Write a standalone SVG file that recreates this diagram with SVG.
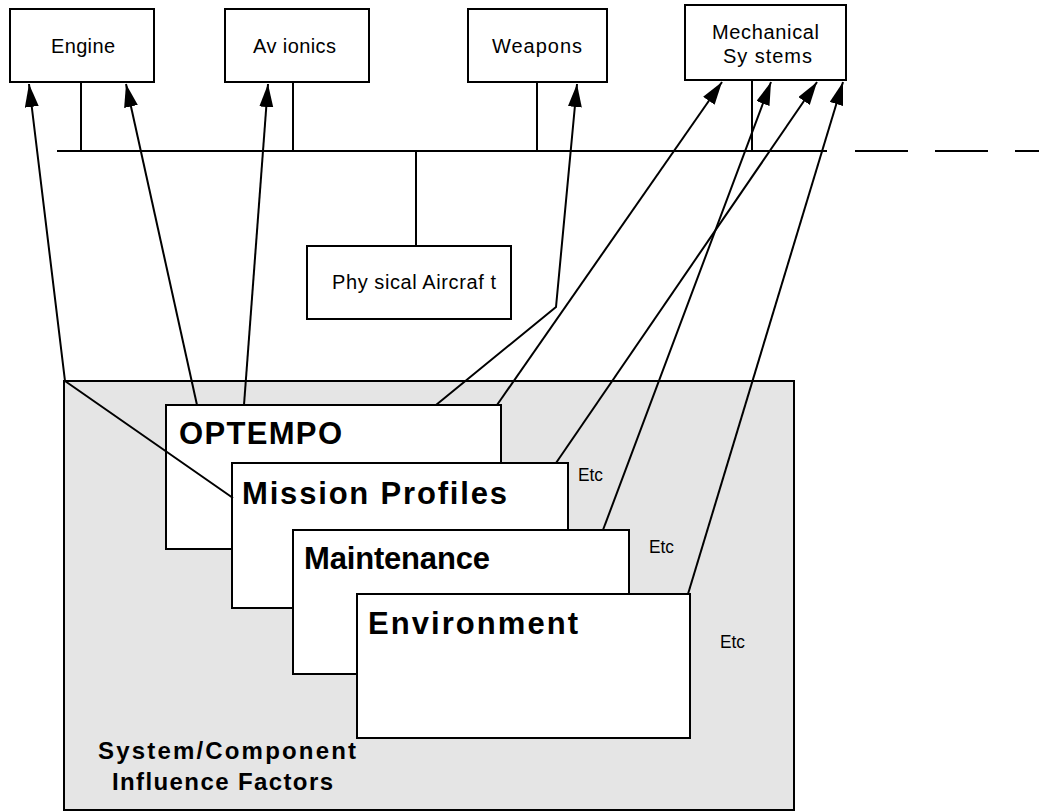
<svg xmlns="http://www.w3.org/2000/svg" width="1039" height="811" viewBox="0 0 1039 811">
<style>
.box{fill:#fff;stroke:#000;stroke-width:2}
.ln{fill:none;stroke:#000;stroke-width:2}
.t{font-family:"Liberation Sans",Arial,sans-serif;font-size:20px;fill:#000}
.b{font-family:"Liberation Sans",Arial,sans-serif;font-size:31px;font-weight:bold;fill:#000}
.c{font-family:"Liberation Sans",Arial,sans-serif;font-size:24px;font-weight:bold;fill:#000}
.e{font-family:"Liberation Sans",Arial,sans-serif;font-size:19px;fill:#000}
</style>
<defs>
<marker id="ah" markerUnits="userSpaceOnUse" markerWidth="26" markerHeight="16" refX="23" refY="7" orient="auto">
<path d="M0,0 L23,7 L0,14 z" fill="#000"/>
</marker>
</defs>
<rect width="1039" height="811" fill="#fff"/>
<g id="influence-factors">
<rect x="64" y="381" width="730" height="429" fill="#e5e5e5" stroke="#000" stroke-width="2"/>
<text class="c" x="227" y="759" text-anchor="middle" textLength="258" lengthAdjust="spacing">System/Component</text>
<text class="c" x="222.5" y="790" text-anchor="middle" textLength="221" lengthAdjust="spacing">Influence Factors</text>
</g>
<g id="bus">
<line class="ln" x1="57" y1="151" x2="827" y2="151"/>
<line class="ln" x1="855" y1="151" x2="1039" y2="151" stroke-dasharray="53 27"/>
<line class="ln" x1="81" y1="82" x2="81" y2="151"/>
<line class="ln" x1="293" y1="82" x2="293" y2="151"/>
<line class="ln" x1="537" y1="82" x2="537" y2="151"/>
<line class="ln" x1="752" y1="80" x2="752" y2="151"/>
<line class="ln" x1="416" y1="151" x2="416" y2="246"/>
</g>
<g id="engine">
<rect class="box" x="10" y="9" width="144" height="73"/>
<text class="t" x="83" y="52.5" text-anchor="middle" textLength="64" lengthAdjust="spacing">Engine</text>
</g>
<g id="avionics">
<rect class="box" x="225" y="9" width="144" height="73"/>
<text class="t" x="294.5" y="52.5" text-anchor="middle" textLength="83" lengthAdjust="spacing">Av ionics</text>
</g>
<g id="weapons">
<rect class="box" x="468" y="9" width="139" height="73"/>
<text class="t" x="537" y="52.5" text-anchor="middle" textLength="90" lengthAdjust="spacing">Weapons</text>
</g>
<g id="mechanical-systems">
<rect class="box" x="685" y="5" width="161" height="75"/>
<text class="t" x="765.5" y="38.5" text-anchor="middle" textLength="107" lengthAdjust="spacing">Mechanical</text>
<text class="t" x="767.5" y="63" text-anchor="middle" textLength="89" lengthAdjust="spacing">Sy stems</text>
</g>
<g id="physical-aircraft">
<rect class="box" x="307" y="246" width="204" height="73"/>
<text class="t" x="332" y="289" textLength="164" lengthAdjust="spacing">Phy sical Aircraf t</text>
</g>
<g id="optempo">
<rect class="box" x="166" y="405" width="335" height="144"/>
<text class="b" x="179" y="444" textLength="163" lengthAdjust="spacing">OPTEMPO</text>
</g>
<g id="mission-profiles">
<rect class="box" x="232" y="463" width="336" height="145"/>
<text class="b" x="242" y="504" textLength="265" lengthAdjust="spacing">Mission Profiles</text>
</g>
<g id="maintenance">
<rect class="box" x="293" y="530" width="336" height="144"/>
<text class="b" x="304" y="569" textLength="186" lengthAdjust="spacing">Maintenance</text>
</g>
<g id="environment">
<rect class="box" x="357" y="594" width="333" height="144"/>
<text class="b" x="368" y="634" textLength="210" lengthAdjust="spacing">Environment</text>
</g>
<g id="etc-labels">
<text class="e" x="578" y="481" textLength="25" lengthAdjust="spacingAndGlyphs">Etc</text>
<text class="e" x="649" y="553" textLength="25" lengthAdjust="spacingAndGlyphs">Etc</text>
<text class="e" x="720" y="648" textLength="25" lengthAdjust="spacingAndGlyphs">Etc</text>
</g>
<g id="connectors">
<polyline class="ln" points="233,498 65,381 29,84" marker-end="url(#ah)"/>
<line class="ln" x1="197" y1="405" x2="126" y2="84" marker-end="url(#ah)"/>
<line class="ln" x1="244" y1="405" x2="268" y2="84" marker-end="url(#ah)"/>
<polyline class="ln" points="436,405 556,307 577,84" marker-end="url(#ah)"/>
<line class="ln" x1="497" y1="405" x2="722" y2="82" marker-end="url(#ah)"/>
<line class="ln" x1="556" y1="463" x2="817" y2="82" marker-end="url(#ah)"/>
<line class="ln" x1="603" y1="530" x2="771" y2="82" marker-end="url(#ah)"/>
<line class="ln" x1="688" y1="594" x2="843" y2="82" marker-end="url(#ah)"/>
</g>
</svg>
